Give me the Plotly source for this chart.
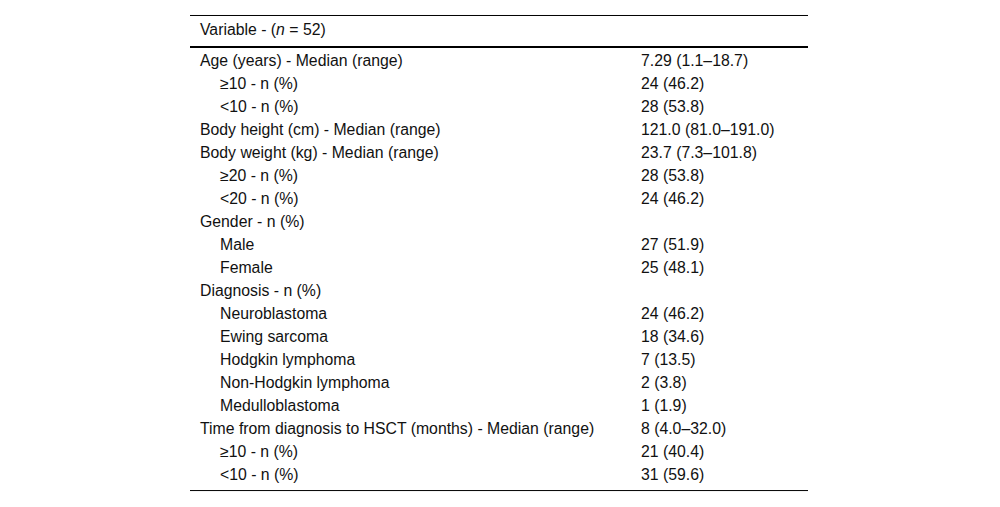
import plotly.graph_objects as go

header = "Variable - (<i>n</i> = 52)"

labels = [
    "Age (years) - Median (range)",
    "≥10 - n (%)",
    "<10 - n (%)",
    "Body height (cm) - Median (range)",
    "Body weight (kg) - Median (range)",
    "≥20 - n (%)",
    "<20 - n (%)",
    "Gender - n (%)",
    "Male",
    "Female",
    "Diagnosis - n (%)",
    "Neuroblastoma",
    "Ewing sarcoma",
    "Hodgkin lymphoma",
    "Non-Hodgkin lymphoma",
    "Medulloblastoma",
    "Time from diagnosis to HSCT (months) - Median (range)",
    "≥10 - n (%)",
    "<10 - n (%)",
]
indent = [0, 1, 1, 0, 0, 1, 1, 0, 1, 1, 0, 1, 1, 1, 1, 1, 0, 1, 1]
values = [
    "7.29 (1.1–18.7)",
    "24 (46.2)",
    "28 (53.8)",
    "121.0 (81.0–191.0)",
    "23.7 (7.3–101.8)",
    "28 (53.8)",
    "24 (46.2)",
    "",
    "27 (51.9)",
    "25 (48.1)",
    "",
    "24 (46.2)",
    "18 (34.6)",
    "7 (13.5)",
    "2 (3.8)",
    "1 (1.9)",
    "8 (4.0–32.0)",
    "21 (40.4)",
    "31 (59.6)",
]

FONT = dict(family="Liberation Sans, Arial, sans-serif", size=15.8, color="#111111")
X_LEFT, X_RIGHT = 190, 808
X_TEXT, X_INDENT, X_VAL = 198, 20, 639
OFF = 8  # page margin around the figure

fig = go.Figure()
fig.add_trace(go.Scatter(x=[], y=[], showlegend=False))

anns = [dict(x=X_TEXT, y=-1.33, text=header, showarrow=False,
             xanchor="left", yanchor="middle", font=FONT)]
for i, (lab, lev, val) in enumerate(zip(labels, indent, values)):
    anns.append(dict(x=X_TEXT + lev * X_INDENT, y=i, text=lab, showarrow=False,
                     xanchor="left", yanchor="middle", font=FONT))
    if val:
        anns.append(dict(x=X_VAL, y=i, text=val, showarrow=False,
                         xanchor="left", yanchor="middle", font=FONT))

n = len(labels)
shapes = [
    dict(type="line", x0=X_LEFT, x1=X_RIGHT, y0=-1.935, y1=-1.935, line=dict(color="black", width=1)),
    dict(type="line", x0=X_LEFT, x1=X_RIGHT, y0=-0.565, y1=-0.565, line=dict(color="black", width=2)),
    dict(type="line", x0=X_LEFT, x1=X_RIGHT, y0=n - 0.28, y1=n - 0.28, line=dict(color="black", width=1)),
]

fig.update_layout(
    width=1000, height=507,
    margin=dict(l=0, r=0, t=0, b=0),
    paper_bgcolor="white", plot_bgcolor="white",
    xaxis=dict(range=[OFF, 1000 + OFF], visible=False, fixedrange=True),
    yaxis=dict(range=[(507 + OFF - 60) / 23, (OFF - 60) / 23], visible=False, fixedrange=True),
    annotations=anns,
    shapes=shapes,
)

fig.write_html("out.html")
